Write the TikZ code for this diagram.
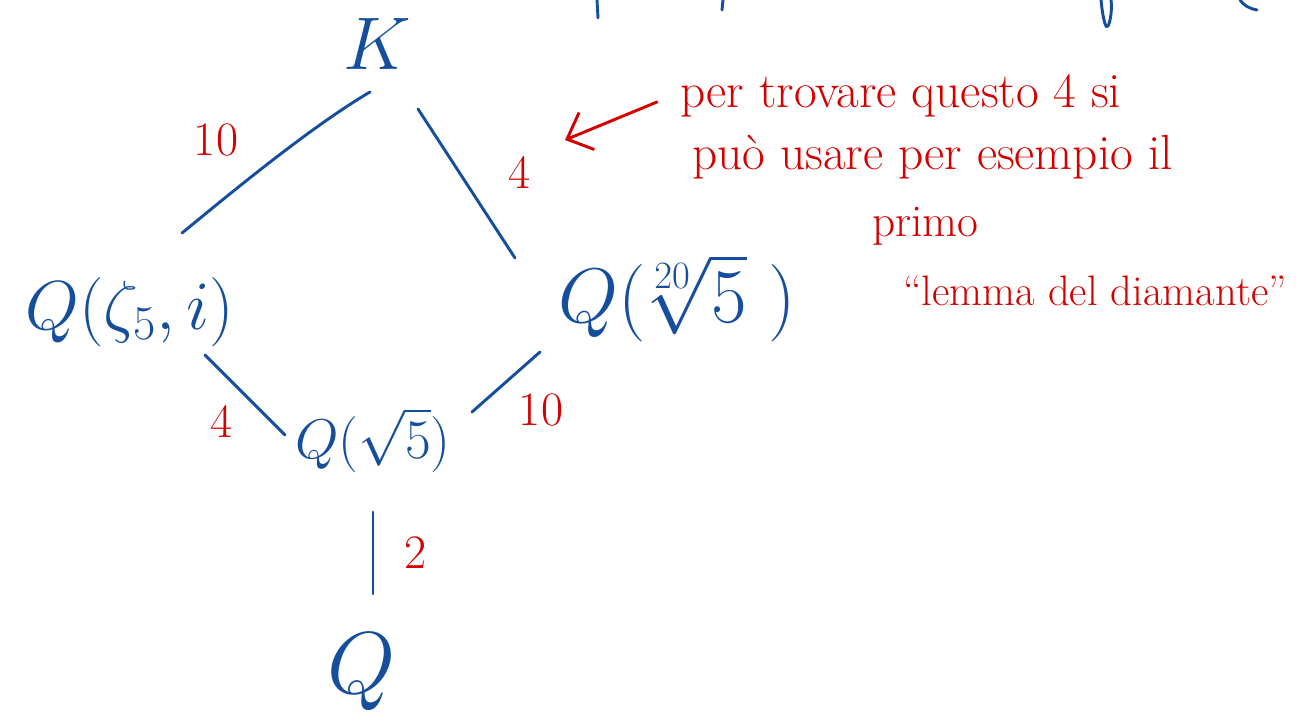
\RequirePackage{fix-cm}
\documentclass[tikz,border=0pt]{standalone}
\usepackage{amsmath}
\usepackage{fontspec}
\usetikzlibrary{arrows.meta}
\definecolor{ink}{RGB}{22,78,158}
\definecolor{redink}{RGB}{212,0,0}
\tikzset{
  field/.style={text=ink, inner sep=1pt},
  deg/.style={text=redink, inner sep=1pt, font=\fontsize{36}{40}\selectfont},
  link/.style={draw=ink, line width=2.2pt, line cap=round},
  note/.style={text=redink, inner sep=0pt, anchor=base west, font=\fontsize{37}{42}\selectfont},
  stroke/.style={draw=ink, line width=2.2pt, line cap=round}
}
\begin{document}
\begin{tikzpicture}[x=0.75pt,y=-0.75pt]
\useasboundingbox (0,0) rectangle (1308,727);
% fragments of cut-off text at the top
\draw[stroke] (597,0) -- (598,18);
\draw[stroke] (723,0) -- (722,10);
\draw[stroke] (1101,0) .. controls (1103,20) and (1106,30) .. (1108,26) .. controls (1111,20) and (1112,8) .. (1111,0);
\draw[stroke] (1240,0) .. controls (1243,5) and (1250,9) .. (1257,10);
% fields
\node[field, font=\fontsize{56}{60}\selectfont] (k) at (377,44) {$K$};
\node[field, font=\fontsize{52}{60}\selectfont] (z) at (130,312) {$Q(\zeta_5,i)$};
\node[field, font=\fontsize{58}{62}\selectfont] (w) at (677,298) {$Q(\!\sqrt[20]{5}\;)$};
\node[field, font=\fontsize{42}{50}\selectfont] (s) at (373,440) {$Q(\sqrt{5})$};
\node[field, font=\fontsize{66}{70}\selectfont] (q) at (362,672) {$Q$};
% links
\draw[link] ([shift={(-7,48)}]k.center) .. controls ([shift={(-70,85)}]k.center) and ([shift={(90,-110)}]z.center) .. ([shift={(52,-79)}]z.center);
\draw[link] ([shift={(41,65)}]k.center) -- ([shift={(-162,-40)}]w.center);
\draw[link] ([shift={(75,43)}]z.center) -- ([shift={(-88,-5)}]s.center);
\draw[link] ([shift={(-137,54)}]w.center) -- ([shift={(99,-28)}]s.center);
\draw[link] ([shift={(0,72)}]s.center) -- ([shift={(11,-78)}]q.center);
% degrees
\node[deg] (d1) at (216,140) {10};
\node[deg] (d2) at (520,172) {4};
\node[deg] (d3) at (222,421) {4};
\node[deg] (d4) at (541,410) {10};
\node[deg] (d5) at (416,553) {2};
% notes
\node[note] (n1) at (680,108) {per trovare questo 4 si};
\node[note] (n2) at (692,170) {può usare per esempio il};
\node[note, font=\fontsize{34}{40}\selectfont] (n3) at (872,236) {primo};
\node[note, font=\fontsize{32}{38}\selectfont] (n4) at (903,305) {``lemma del diamante''};
\draw[redink, line width=2.2pt, line cap=round, -{Straight Barb[length=16pt,width=30pt,line width=2.2pt]}]
  ([shift={(-23,-6)}]n1.base west) -- ([shift={(45,-32)}]d2.center);
\end{tikzpicture}
\end{document}
